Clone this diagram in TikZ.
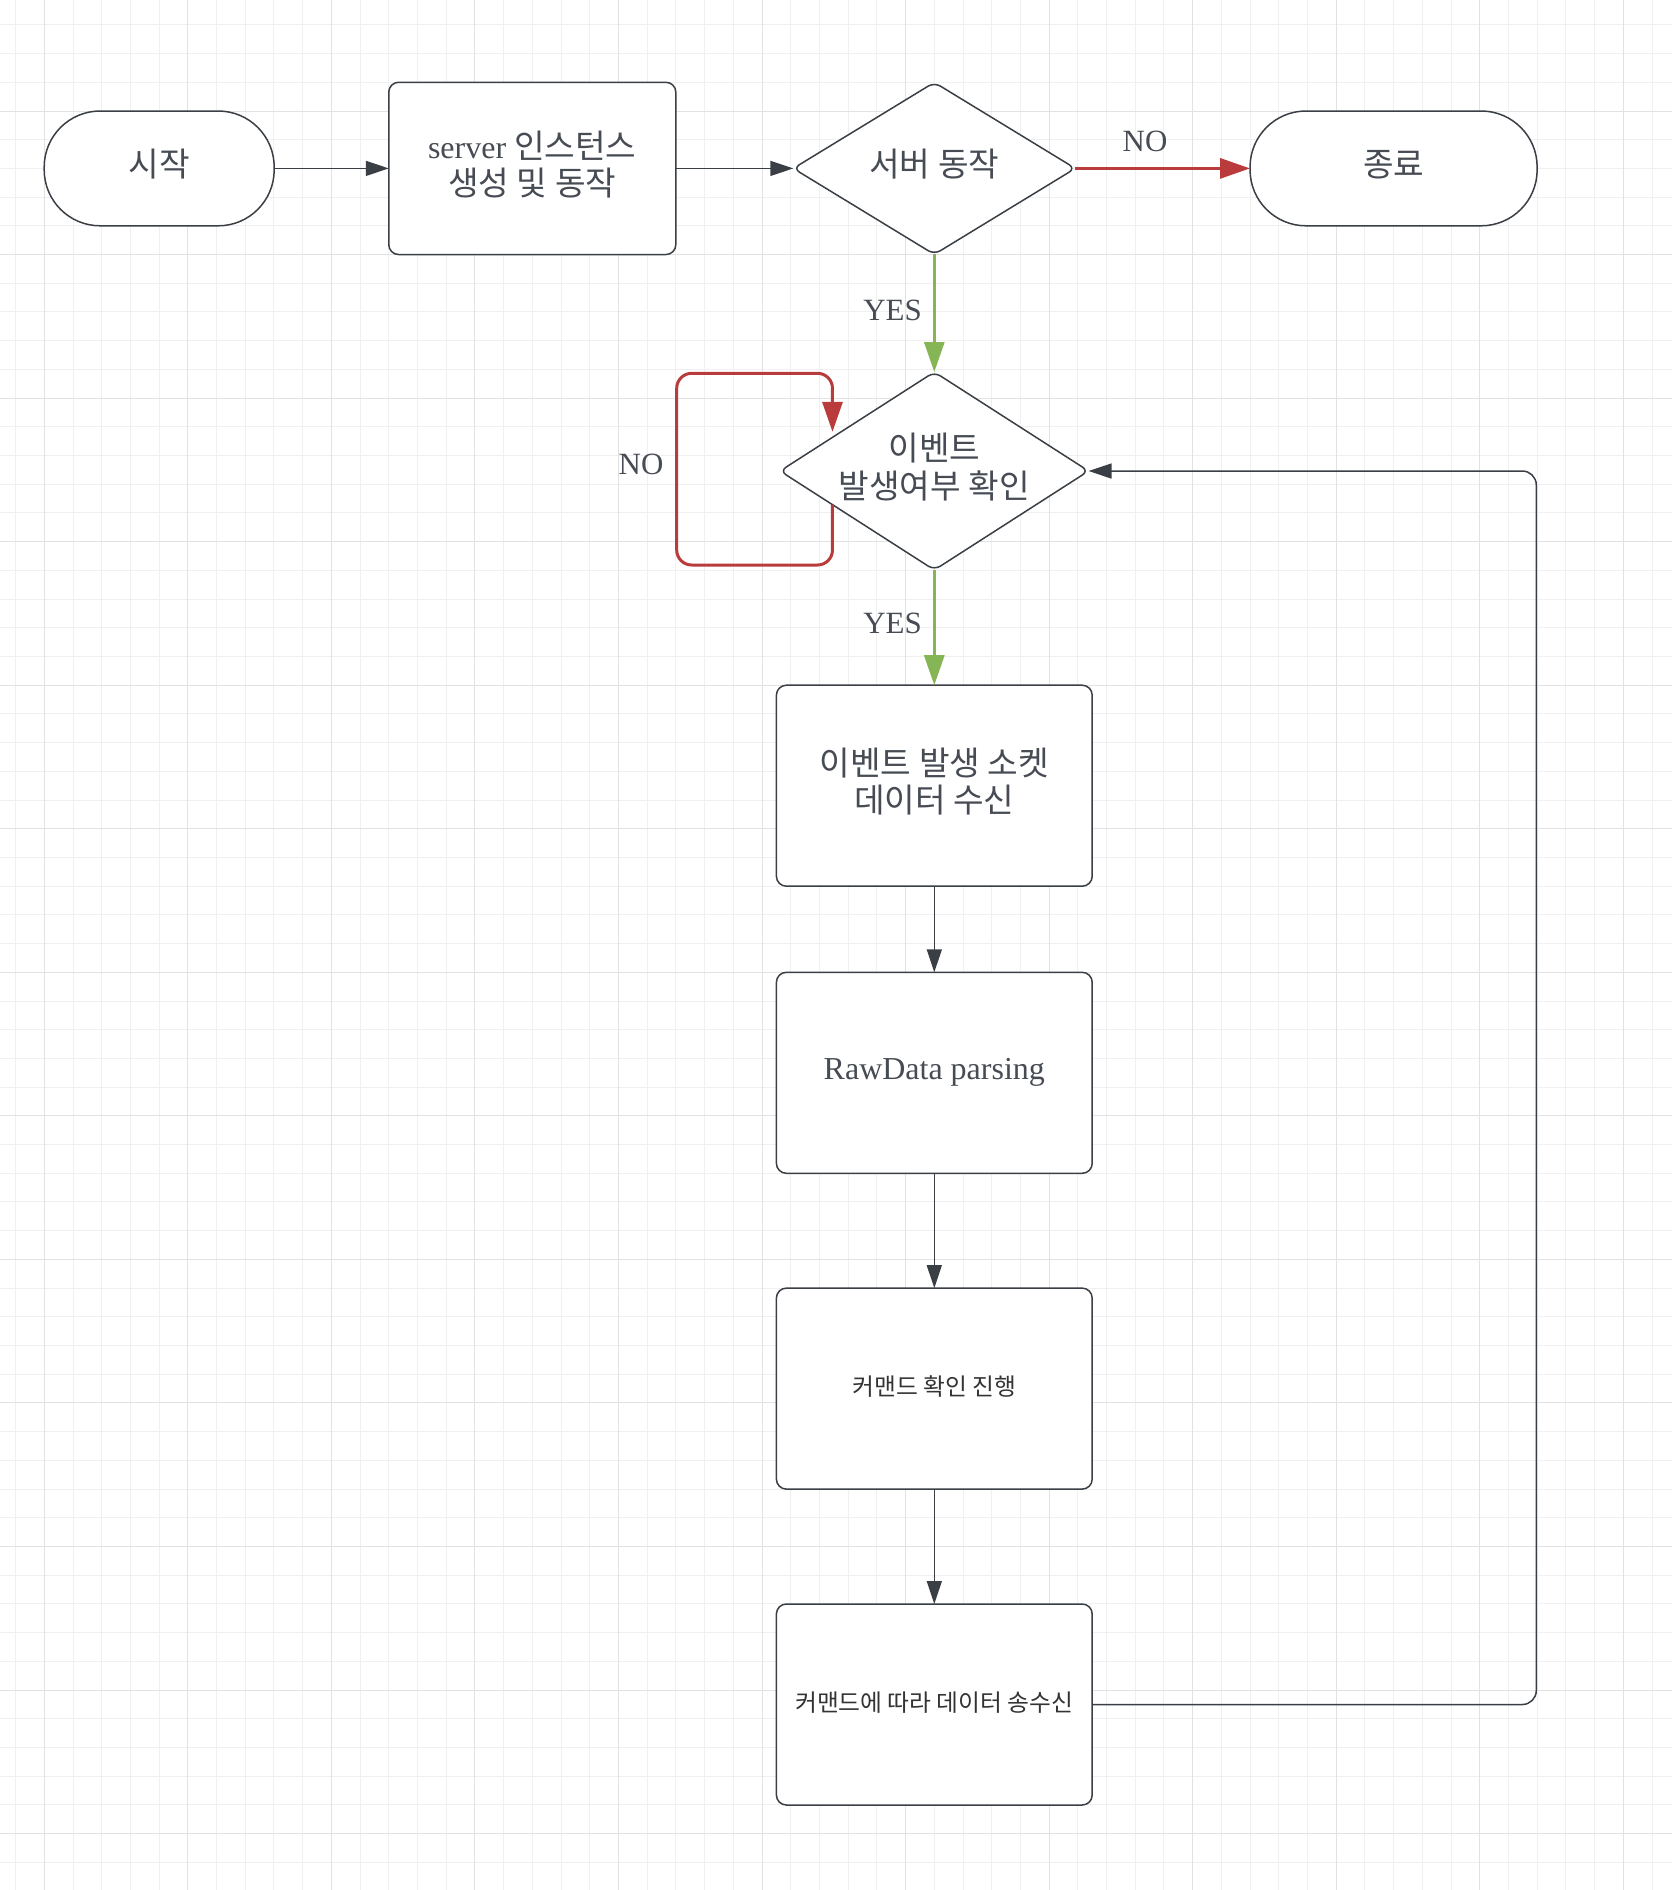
\documentclass[tikz,border=0pt]{standalone}
\usepackage{fontspec}
\setmainfont{Liberation Serif}
\newfontfamily\kr[Scale=1.04]{Noto Sans CJK KR}
\usetikzlibrary{shapes.geometric,arrows.meta,calc}

\definecolor{inkgray}{HTML}{3A3F46}
\definecolor{txtgray}{HTML}{474C54}
\definecolor{txtdark}{HTML}{333333}
\definecolor{noRed}{HTML}{B93B3B}
\definecolor{yesGreen}{HTML}{86B555}
\definecolor{gridMinor}{HTML}{F0F0F0}
\definecolor{gridMajor}{HTML}{E2E2E2}

\tikzset{
  serif/.style={font=\fontsize{9.1}{10.6}\selectfont},
  hangul/.style={font=\kr\fontsize{9.1}{10.6}\selectfont, text depth=3pt},
  terminal/.style={draw=inkgray, line width=0.15mm, fill=white, text=txtgray,
    rounded corners=5.6mm, minimum width=2.30cm, minimum height=1.148cm,
    inner sep=0pt, outer sep=0pt, align=center},
  process/.style={draw=inkgray, line width=0.15mm, fill=white, text=txtgray,
    rounded corners=1mm, minimum width=3.158cm, minimum height=2.01cm,
    inner sep=0pt, outer sep=0pt, align=center},
  smallbox/.style={process, text=txtdark, font=\kr\fontsize{6.5}{8}\selectfont, text depth=1.9pt},
  decision/.style={diamond, draw=inkgray, line width=0.15mm, fill=white, text=txtgray,
    rounded corners=0.7mm, aspect=1.56, inner sep=0pt, outer sep=0pt, align=center},
  lbl/.style={text=txtgray, inner sep=0pt, font=\fontsize{8.8}{10.6}\selectfont},
  flow/.style={draw=inkgray, line width=0.15mm, -{Triangle[length=2.3mm,width=1.5mm]}},
  noflow/.style={draw=noRed, line width=0.3mm, -{Triangle[length=3mm,width=2mm]}},
  yesflow/.style={draw=yesGreen, line width=0.3mm, -{Triangle[length=3mm,width=2mm]}},
}

\begin{document}
\begin{tikzpicture}
  \useasboundingbox[fill=white] (0,0) rectangle (16.72,-18.90);

  % Draw the grid
  \foreach \i in {0,...,57}
    \draw[gridMinor, line width=0.1mm] ({0.1559+0.2871*\i},0) -- ++(0,-18.9);
  \foreach \j in {0,...,64}
    \draw[gridMinor, line width=0.1mm] (0,{-0.2487-0.2871*\j}) -- ++(16.72,0);
  \foreach \i in {0,...,11}
    \draw[gridMajor, line width=0.1mm] ({0.443+1.4355*\i},0) -- ++(0,-18.9);
  \foreach \j in {0,...,12}
    \draw[gridMajor, line width=0.1mm] (0,{-1.11-1.4355*\j}) -- ++(16.72,0);

  % Top row
  \node[terminal, hangul] (start) at (1.592,-1.684) {시작};
  \node[process, serif, text depth=3pt, minimum width=2.871cm, minimum height=1.723cm] (create) at (5.323,-1.684)
    {server {\kr 인스턴스}\\{\kr 생성 및 동작}};
  \node[decision, hangul, minimum width=2.82cm, minimum height=1.72cm] (running) at (9.343,-1.684) {서버 동작};
  \node[terminal, hangul, minimum width=2.871cm] (stop) at (13.936,-1.684) {종료};

  % Event check
  \node[decision, hangul, minimum width=3.08cm, minimum height=1.98cm] (event) at (9.343,-4.71)
    {이벤트\\발생여부 확인};

  % Process column
  \node[process, hangul] (recv) at (9.343,-7.857) {이벤트 발생 소켓\\데이터 수신};
  \node[process, serif] (parse) at (9.343,-10.728) {RawData parsing};
  \node[smallbox] (cmd) at (9.343,-13.886) {커맨드 확인 진행};
  \node[smallbox] (xfer) at (9.343,-17.045) {커맨드에 따라 데이터 송수신};

  % Labels
  \node[lbl] (noTop) at (11.45,-1.41) {NO};
  \node[lbl] (yesTop) at (8.925,-3.10) {YES};
  \node[lbl] (noLoop) at (6.41,-4.64) {NO};
  \node[lbl] (yesMid) at (8.925,-6.23) {YES};

  % Connectors
  \draw[flow] (start) -- (create);
  \draw[flow] (create) -- (running);
  \draw[noflow] (running) -- (stop);
  \draw[yesflow] (running) -- (event);
  \draw[yesflow] (event) -- (recv);
  \draw[flow] (recv) -- (parse);
  \draw[flow] (parse) -- (cmd);
  \draw[flow] (cmd) -- (xfer);

  % Loop back on NO
  \coordinate (loopOut) at ($(event.west)!0.34!(event.south)$);
  \coordinate (loopIn) at ($(event.west)!0.34!(event.north)+(0,0.055)$);
  \coordinate (loopBot) at (6.767,-5.65);
  \coordinate (loopTop) at (6.767,-3.733);
  \draw[noflow, rounded corners=0.15cm] (loopOut) |- (loopBot) -- (loopTop) -| (loopIn);

  % Return to event check
  \coordinate (retX) at (15.363,0);
  \draw[flow, rounded corners=0.14cm] (xfer.east) -| (retX |- event.east) -- (event.east);

\end{tikzpicture}
\end{document}
